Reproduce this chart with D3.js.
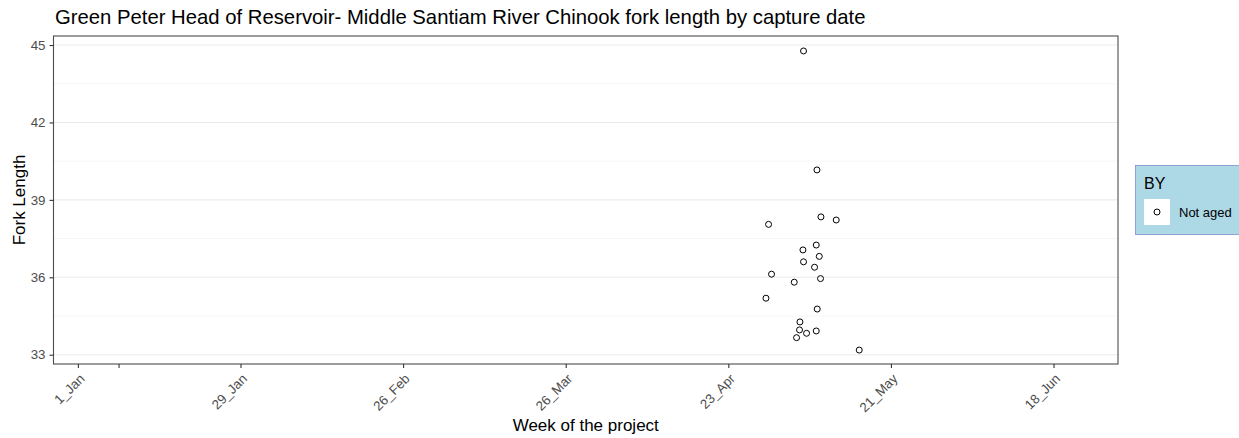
<!DOCTYPE html>
<html><head><meta charset="utf-8">
<script src="https://cdn.jsdelivr.net/npm/d3@7"></script>
<style>body{margin:0;background:#fff;}svg{font-family:"Liberation Sans",Arial,sans-serif;}</style>
</head><body>
<svg id="c" width="1239" height="438"></svg>
<script>
// day-of-year (1 Jan = 0) of capture, jittered as plotted
const captureDay = [124.95,127.26,118.93,127.95,130.58,127.14,124.85,127.66,124.95,126.85,119.44,127.88,123.35,118.48,127.31,124.33,124.26,127.14,125.47,123.75,134.54];
const forkLength = [44.77,40.16,38.05,38.34,38.22,37.25,37.06,36.81,36.60,36.39,36.12,35.95,35.81,35.19,34.77,34.27,33.96,33.92,33.83,33.66,33.18];
const xTickDays = [0,7,28,56,84,112,140,168];
const xTickLabels = ["1_Jan","","29_Jan","26_Feb","26_Mar","23_Apr","21_May","18_Jun"];
const yTicks = [33,36,39,42,45];
const yMinor = [34.5,37.5,40.5,43.5];
const legendTitle = "BY";
const legendLabels = ["Not aged"];

const svg = d3.select("#c");
const L=53.5, R=1118, T=36, B=364;
const x = d3.scaleLinear().domain([-4.2,179.1]).range([L,R]);
const y = d3.scaleLinear().domain([32.64,45.35]).range([B,T]);

// grid
svg.append("g").selectAll("line").data(yMinor).join("line")
  .attr("x1",L).attr("x2",R).attr("y1",d=>y(d)).attr("y2",d=>y(d))
  .attr("stroke","#f0f0f0").attr("stroke-width",0.6);
svg.append("g").selectAll("line").data(yTicks).join("line")
  .attr("x1",L).attr("x2",R).attr("y1",d=>y(d)).attr("y2",d=>y(d))
  .attr("stroke","#ebebeb").attr("stroke-width",1.1);

// points
svg.append("g").selectAll("circle").data(captureDay).join("circle")
  .attr("cx",d=>x(d)).attr("cy",(d,i)=>y(forkLength[i])).attr("r",3)
  .attr("fill","none").attr("stroke","#000").attr("stroke-width",1);

// panel border
svg.append("rect").attr("x",L).attr("y",T).attr("width",R-L).attr("height",B-T)
  .attr("fill","none").attr("stroke","#4d4d4d").attr("stroke-width",1.1);

// axes
const xAxis = d3.axisBottom(x).tickValues(xTickDays).tickFormat((d,i)=>xTickLabels[i]).tickSize(4).tickPadding(3);
const gx = svg.append("g").attr("transform",`translate(0,${B})`).call(xAxis);
gx.select(".domain").remove();
gx.selectAll("line").attr("stroke","#333").attr("stroke-width",1.1);
gx.selectAll("text").attr("fill","#4d4d4d").attr("font-size",13.3)
  .attr("text-anchor","end").attr("dy",null).attr("x",0).attr("y",0)
  .attr("transform","translate(7,15.5) rotate(-45)");

const yAxis = d3.axisLeft(y).tickValues(yTicks).tickSize(4).tickPadding(4);
const gy = svg.append("g").attr("transform",`translate(${L},0)`).call(yAxis);
gy.select(".domain").remove();
gy.selectAll("line").attr("stroke","#333").attr("stroke-width",1.1);
gy.selectAll("text").attr("fill","#4d4d4d").attr("font-size",13.3);

// titles
svg.append("text").attr("x",55).attr("y",23.5).attr("font-size",20.3).attr("fill","#000")
  .text("Green Peter Head of Reservoir- Middle Santiam River Chinook fork length by capture date");
svg.append("text").attr("x",(L+R)/2).attr("y",431).attr("text-anchor","middle").attr("font-size",17)
  .text("Week of the project");
svg.append("text").attr("transform",`translate(25,${(T+B)/2}) rotate(-90)`).attr("text-anchor","middle").attr("font-size",17)
  .text("Fork Length");

// legend
const lg = svg.append("g");
lg.append("rect").attr("x",1135.5).attr("y",165.5).attr("width",110).attr("height",69)
  .attr("fill","#add8e6").attr("stroke","#7f8fcf").attr("stroke-width",0.8);
lg.append("text").attr("x",1144).attr("y",189).attr("font-size",16).text(legendTitle);
legendLabels.forEach((lab,i)=>{
  lg.append("rect").attr("x",1144).attr("y",199+i*27).attr("width",26).attr("height",26).attr("fill","#fff");
  lg.append("circle").attr("cx",1157).attr("cy",212+i*27).attr("r",3).attr("fill","none").attr("stroke","#000");
  lg.append("text").attr("x",1179).attr("y",217+i*27).attr("font-size",13).text(lab);
});
</script>
</body></html>
